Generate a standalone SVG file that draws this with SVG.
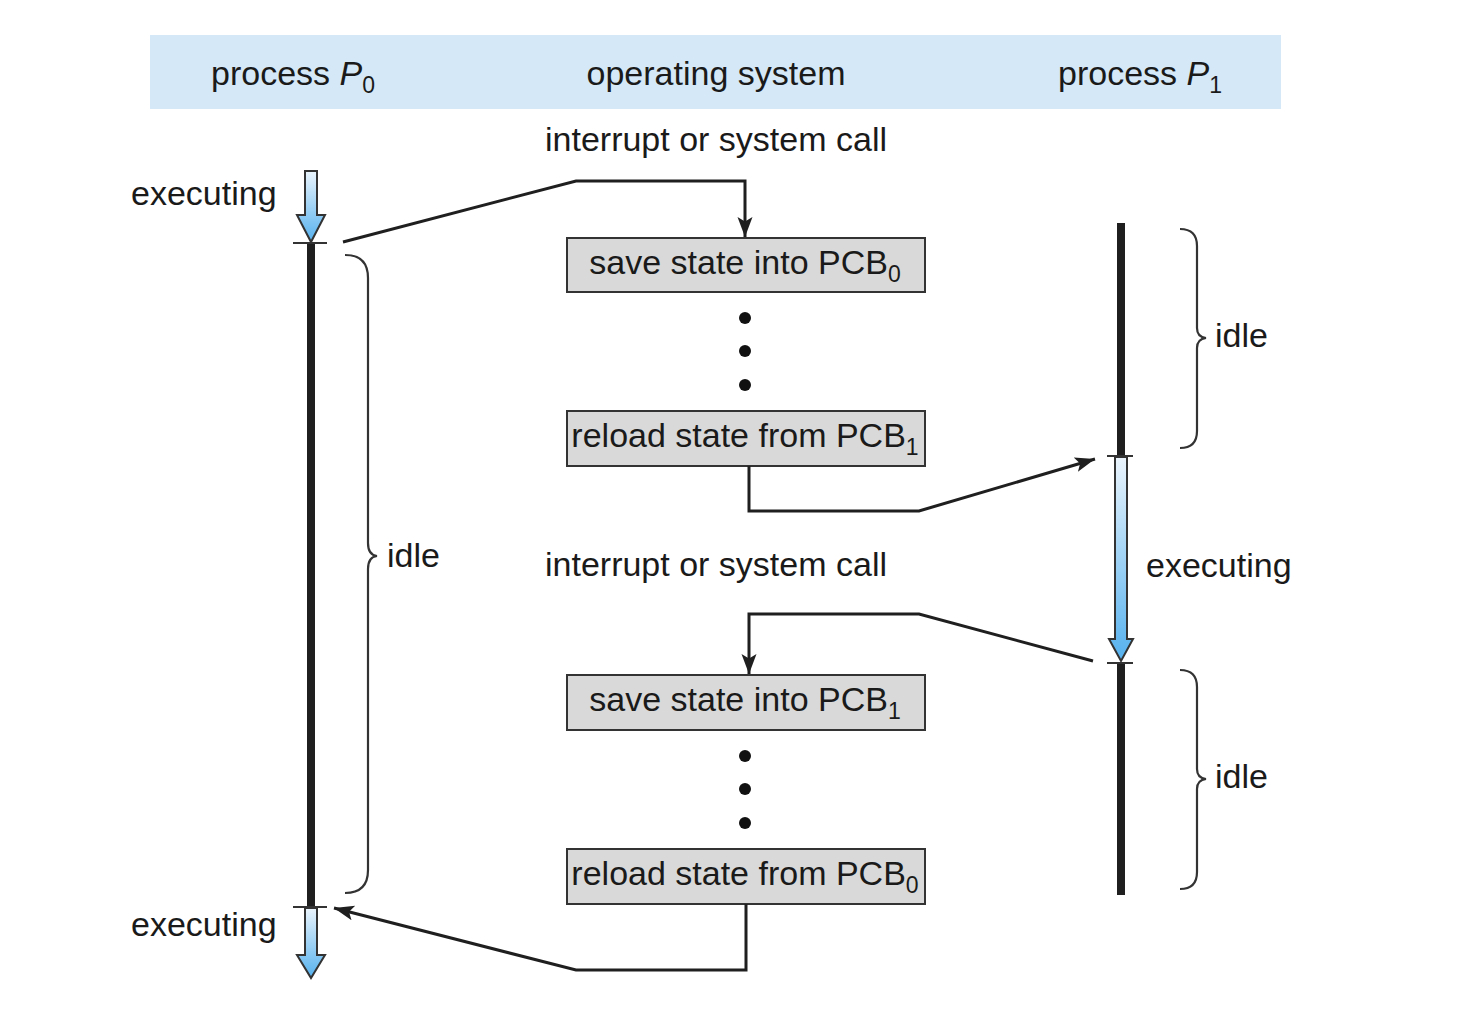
<svg xmlns="http://www.w3.org/2000/svg" width="1460" height="1036" viewBox="0 0 1460 1036">
<style>
text{font-family:"Liberation Sans",Arial,sans-serif;font-size:34px;fill:#1a1a1a}
.sub{font-size:23px}
.box{fill:#d9d9d9;stroke:#333;stroke-width:2}
.conn{fill:none;stroke:#1f1f1f;stroke-width:3;stroke-linejoin:miter}
.bar{stroke:#1f1f1f;stroke-width:8}
.tick{stroke:#333;stroke-width:2}
.brace{fill:none;stroke:#333;stroke-width:2.2}
.exec{fill:url(#g);stroke:#333;stroke-width:2}
.dot{fill:#111}
</style>
<defs>
<linearGradient id="g" x1="0" y1="0" x2="0" y2="1">
<stop offset="0" stop-color="#eaf4fc"/>
<stop offset="1" stop-color="#55b1ee"/>
</linearGradient>
<marker id="ah" markerUnits="userSpaceOnUse" markerWidth="22" markerHeight="18" refX="20" refY="9" orient="auto">
<path d="M0,1.5 L20,9 L0,16.5 L4.5,9 Z" fill="#1f1f1f"/>
</marker>
</defs>
<rect x="150" y="35" width="1131" height="74" fill="#d4e8f7"/>
<g id="header">
<text x="211" y="85">process <tspan font-style="italic">P</tspan><tspan class="sub" dy="8">0</tspan></text>
<text x="716" y="85" text-anchor="middle">operating system</text>
<text x="1058" y="85">process <tspan font-style="italic">P</tspan><tspan class="sub" dy="8">1</tspan></text>
</g>
<g id="p0-timeline">
<path class="exec" d="M305,171 L317,171 L317,215 L325,215 L311,242 L297,215 L305,215 Z"/>
<line class="tick" x1="293" y1="243" x2="327" y2="243"/>
<line class="bar" x1="311" y1="244" x2="311" y2="906"/>
<line class="tick" x1="293" y1="907" x2="327" y2="907"/>
<path class="exec" d="M305,908 L317,908 L317,955 L325,955 L311,978 L297,955 L305,955 Z"/>
<text x="131" y="205">executing</text>
<text x="131" y="936">executing</text>
<path class="brace" d="M345,255 Q368,255 368,278 L368,543 Q368,555 377,556 Q368,557 368,569 L368,870 Q368,893 345,893"/>
<text x="387" y="567">idle</text>
</g>
<g id="p1-timeline">
<line class="bar" x1="1121" y1="223" x2="1121" y2="455"/>
<line class="tick" x1="1107" y1="456" x2="1133" y2="456"/>
<path class="exec" d="M1115,457 L1127,457 L1127,639 L1133,639 L1121,661 L1109,639 L1115,639 Z"/>
<line class="tick" x1="1107" y1="663" x2="1133" y2="663"/>
<line class="bar" x1="1121" y1="664" x2="1121" y2="895"/>
<text x="1146" y="577">executing</text>
<path class="brace" d="M1180,229 Q1197,229 1197,246 L1197,328 Q1197,337 1206,338 Q1197,339 1197,348 L1197,431 Q1197,448 1180,448"/>
<text x="1215" y="347">idle</text>
<path class="brace" d="M1180,670 Q1197,670 1197,687 L1197,769 Q1197,778 1206,779 Q1197,780 1197,789 L1197,872 Q1197,889 1180,889"/>
<text x="1215" y="788">idle</text>
</g>
<g id="os">
<text x="545" y="151">interrupt or system call</text>
<text x="545" y="576">interrupt or system call</text>
<g id="save0"><rect class="box" x="567" y="238" width="358" height="54"/><text x="745" y="274" text-anchor="middle">save state into PCB<tspan class="sub" dy="8">0</tspan></text></g>
<g id="dots1"><circle class="dot" cx="745" cy="318" r="6"/><circle class="dot" cx="745" cy="351" r="6"/><circle class="dot" cx="745" cy="385" r="6"/></g>
<g id="reload1"><rect class="box" x="567" y="411" width="358" height="55"/><text x="745" y="447" text-anchor="middle">reload state from PCB<tspan class="sub" dy="8">1</tspan></text></g>
<g id="save1"><rect class="box" x="567" y="675" width="358" height="55"/><text x="745" y="711" text-anchor="middle">save state into PCB<tspan class="sub" dy="8">1</tspan></text></g>
<g id="dots2"><circle class="dot" cx="745" cy="756" r="6"/><circle class="dot" cx="745" cy="789" r="6"/><circle class="dot" cx="745" cy="823" r="6"/></g>
<g id="reload0"><rect class="box" x="567" y="849" width="358" height="55"/><text x="745" y="885" text-anchor="middle">reload state from PCB<tspan class="sub" dy="8">0</tspan></text></g>
</g>
<g id="connectors">
<polyline class="conn" points="343,242 576,181 745,181 745,237" marker-end="url(#ah)"/>
<polyline class="conn" points="749,466 749,511 919,511 1095,459" marker-end="url(#ah)"/>
<polyline class="conn" points="1093,661 919,614 749,614 749,674" marker-end="url(#ah)"/>
<polyline class="conn" points="746,904 746,970 576,970 334,908" marker-end="url(#ah)"/>
</g>
</svg>
